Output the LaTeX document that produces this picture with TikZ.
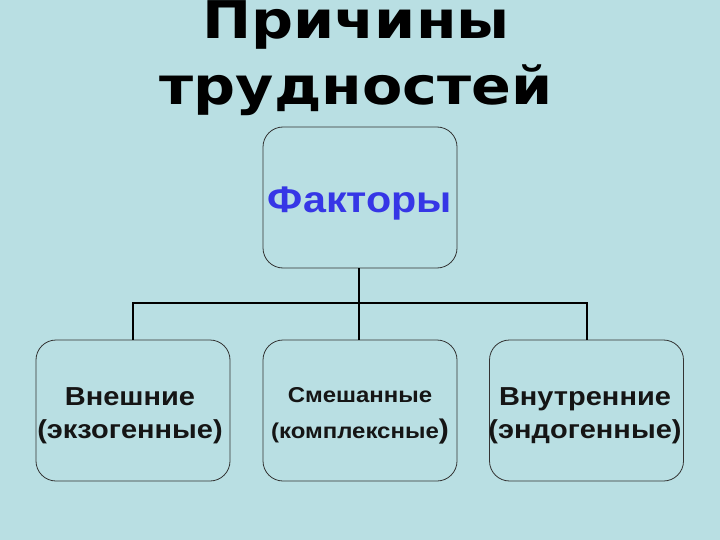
\documentclass[tikz,border=0pt]{standalone}
\usepackage{fontspec}
\setmainfont{Liberation Sans}
\newfontfamily\titlefont[FakeStretch=1.13]{DejaVu Sans}
\newfontfamily\boxfont[FakeStretch=1.115]{Liberation Sans}
\definecolor{bg}{HTML}{B9DFE3}
\definecolor{boxline}{HTML}{333333}
\definecolor{fblue}{HTML}{3636E6}
\definecolor{txt}{HTML}{151515}
\begin{document}
\begin{tikzpicture}[x=1pt,y=-1pt,
  box/.style={draw=boxline,line width=0.8pt,rounded corners=20pt,minimum width=194pt,minimum height=141pt,inner sep=0pt},
  lbl/.style={align=center,text=txt,inner sep=0pt,anchor=base,font=\boxfont\bfseries\fontsize{26}{33}\selectfont},
  ttl/.style={font=\titlefont\bfseries\fontsize{52}{66}\selectfont,text=black,anchor=base,inner sep=0pt,align=center},
  conn/.style={draw=black,line width=2pt}]
\fill[bg] (0,0) rectangle (720,540);
\useasboundingbox (0,0) rectangle (720,540);
\node[ttl] (title) at (356,105) {Причины\\трудностей};
\node[box] (f) at (360,197.5) {};
\node[box] (l) at (133,410.5) {};
\node[box] (m) at (360,410.5) {};
\node[box] (r) at (586.5,410.5) {};
\node[lbl,text=fblue,font=\boxfont\bfseries\fontsize{37}{44}\selectfont] (fl) at (360,213) {Факторы};
\node[lbl] (ll) at (130,438) {Внешние\\(экзогенные)};
\node[lbl,font=\boxfont\bfseries\fontsize{21.5}{36}\selectfont] (ml) at (360,438) {Смешанные\\(комплексные{\fontsize{27}{36}\selectfont)}};
\node[lbl] (rl) at (585,438) {Внутренние\\(эндогенные)};
\coordinate (j) at (359,303);
\draw[conn] (f.south -| j) -- (j);
\draw[conn] (l.north) |- (j) -| (r.north);
\draw[conn] (j) -- (m.north -| j);
\end{tikzpicture}
\end{document}
